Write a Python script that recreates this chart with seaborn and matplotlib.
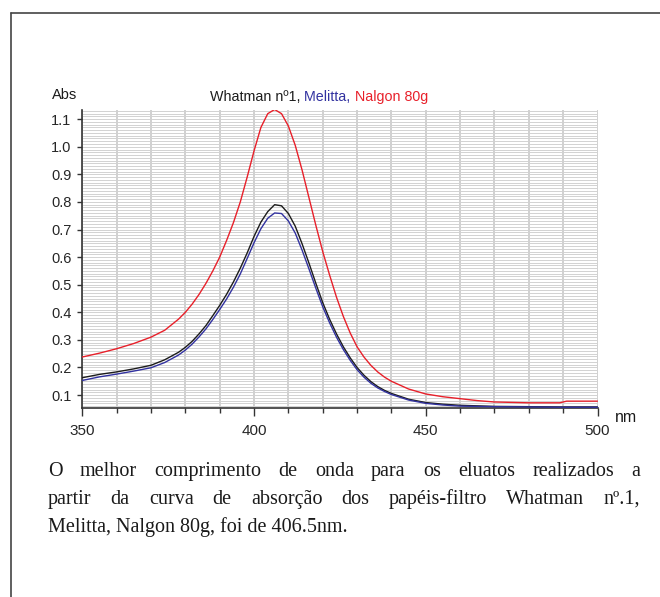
import numpy as np
import pandas as pd
import matplotlib
matplotlib.use("Agg")
import matplotlib.pyplot as plt
import seaborn as sns
from matplotlib.lines import Line2D
from matplotlib.ticker import MultipleLocator

# data
nm = [350, 355, 360, 365, 370, 374, 378,
      380, 382, 384, 386, 388, 390, 392, 394, 396, 398, 400, 402, 404, 406, 408,
      410, 412, 414, 416, 418, 420, 422, 424, 426, 428, 430, 432, 434, 436, 438, 440,
      445, 450, 455, 460, 465, 470, 480, 489, 491, 500]

whatman = [0.163, 0.175, 0.184, 0.195, 0.208, 0.228, 0.255,
           0.273, 0.295, 0.322, 0.352, 0.388, 0.425, 0.465, 0.510, 0.560, 0.615,
           0.675, 0.727, 0.765, 0.790, 0.786,
           0.758, 0.712, 0.648, 0.578, 0.505, 0.435, 0.375, 0.322, 0.275, 0.235,
           0.200, 0.172, 0.149, 0.131, 0.117, 0.106,
           0.085, 0.073, 0.067, 0.063, 0.061, 0.059, 0.058, 0.057, 0.057, 0.057]

melitta = [0.153, 0.166, 0.176, 0.187, 0.199, 0.218, 0.245,
           0.263, 0.285, 0.311, 0.340, 0.374, 0.410, 0.448, 0.491, 0.539, 0.595,
           0.652, 0.703, 0.741, 0.760, 0.758,
           0.731, 0.687, 0.625, 0.557, 0.487, 0.420, 0.362, 0.310, 0.265, 0.226,
           0.192, 0.165, 0.143, 0.126, 0.113, 0.102,
           0.082, 0.070, 0.064, 0.060, 0.059, 0.058, 0.057, 0.056, 0.056, 0.056]

nalgon = [0.238, 0.252, 0.268, 0.287, 0.310, 0.335, 0.375,
          0.400, 0.430, 0.465, 0.505, 0.550, 0.600, 0.660, 0.725, 0.800, 0.890,
          0.985, 1.070, 1.120, 1.135, 1.120,
          1.075, 1.005, 0.915, 0.815, 0.715, 0.620, 0.535, 0.455, 0.385, 0.325,
          0.275, 0.238, 0.208, 0.184, 0.165, 0.150,
          0.122, 0.104, 0.094, 0.087, 0.080, 0.075, 0.072, 0.072, 0.078, 0.078]

papers = ["Whatman nº1", "Melitta", "Nalgon 80g"]
colors = ["#1c1c1c", "#3232a0", "#e8202a"]
yticks = [0.1, 0.2, 0.3, 0.4, 0.5, 0.6, 0.7, 0.8, 0.9, 1.0, 1.1]
xticks = [350, 400, 450, 500]

caption = ["O melhor comprimento de onda para os eluatos realizados a",
           "partir da curva de absorção dos papéis-filtro Whatman nº.1,",
           "Melitta, Nalgon 80g, foi de 406.5nm."]

df = pd.DataFrame({
    "nm": nm * 3,
    "Abs": whatman + melitta + nalgon,
    "papel": [papers[0]] * len(nm) + [papers[1]] * len(nm) + [papers[2]] * len(nm),
})

sns.set_style("white")
plt.rcParams["font.family"] = ["Liberation Sans", "DejaVu Sans"]

W, H = 660, 597
fig = plt.figure(figsize=(W / 100, H / 100), dpi=100)
ax = fig.add_axes([82.3 / W, 1 - 407.5 / H, (597.5 - 82.3) / W, (407.5 - 109.5) / H])

sns.lineplot(data=df, x="nm", y="Abs", hue="papel", hue_order=papers,
             palette=dict(zip(papers, colors)), legend=False, lw=1.0, ax=ax, zorder=3)

ax.set_xlim(350, 500)
ax.set_ylim(0.055, 1.135)
ax.set_xticks(xticks)
ax.set_xticklabels([str(t) for t in xticks])
ax.xaxis.set_minor_locator(MultipleLocator(10))
ax.set_yticks(yticks)
ax.set_yticklabels([f"{t:.1f}" for t in yticks])
ax.yaxis.set_minor_locator(MultipleLocator(0.01))
ax.set_xlabel("")
ax.set_ylabel("")

ax.set_axisbelow(True)
ax.grid(which="both", axis="y", color="#d2d2d2", lw=0.7)
ax.grid(which="both", axis="x", color="#c4c4c4", lw=1.1)

ax.tick_params(axis="x", which="major", direction="out", length=6.1, width=1.0,
               color="#333333", pad=6, labelsize=11, bottom=True)
ax.tick_params(axis="x", which="minor", direction="out", length=3.6, width=1.0,
               color="#333333", bottom=True)
ax.tick_params(axis="y", which="major", direction="out", length=3.6, width=1.0,
               color="#333333", pad=4.3, labelsize=10.5, left=True)
ax.tick_params(axis="y", which="minor", length=0)

for s in ["top", "right"]:
    ax.spines[s].set_visible(False)
for s in ["left", "bottom"]:
    ax.spines[s].set_color("#333333")
    ax.spines[s].set_linewidth(1.2)

fig.text(51.7 / W, 1 - 95 / H, "Abs", fontsize=10.5, va="center", ha="left", color="#1a1a1a")
fig.text(615 / W, 1 - 417 / H, "nm", fontsize=11.5, va="center", ha="left", color="#1a1a1a")

# title with coloured parts
t0 = fig.text(210 / W, 1 - 97 / H, "Whatman nº1, ", fontsize=10.3, va="center", ha="left",
              color=colors[0])
t1 = ax.annotate("Melitta, ", xy=(1, 0), xycoords=t0, va="bottom", ha="left",
                 fontsize=10.3, color=colors[1])
ax.annotate("Nalgon 80g", xy=(1, 0), xycoords=t1, va="bottom", ha="left",
            fontsize=10.3, color=colors[2])

# frame around the figure
fig.add_artist(Line2D([11 / W, 1], [1 - 13 / H, 1 - 13 / H], transform=fig.transFigure,
                      color="#444444", lw=1.2))
fig.add_artist(Line2D([11 / W, 11 / W], [0, 1 - 13 / H], transform=fig.transFigure,
                      color="#444444", lw=1.2))

# caption, justified like the original (last line left aligned)
renderer = fig.canvas.get_renderer()
x_left, x_right = 48, 640
baselines = [476, 504, 532]
serif = ["Liberation Serif", "DejaVu Serif"]
fs = 14.5
for i, line in enumerate(caption):
    y = 1 - baselines[i] / H
    if i == len(caption) - 1:
        fig.text(x_left / W, y, line, fontsize=fs, va="baseline", ha="left",
                 family=serif, color="#1a1a1a")
        continue
    words = line.split()
    texts = [fig.text(0, y, w, fontsize=fs, va="baseline", ha="left",
                      family=serif, color="#1a1a1a") for w in words]
    widths = [t.get_window_extent(renderer).width for t in texts]
    gap = (x_right - x_left - sum(widths)) / (len(words) - 1)
    x = x_left
    for t, w in zip(texts, widths):
        t.set_x(x / W)
        x += w + gap

fig.savefig("out.png", dpi=100)
